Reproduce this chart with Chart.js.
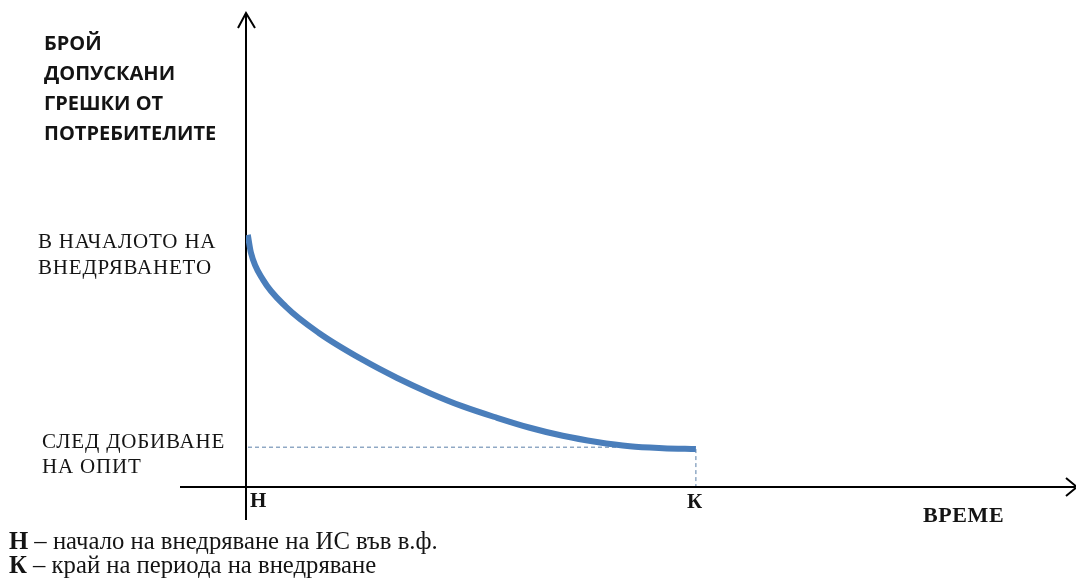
<!DOCTYPE html>
<html>
<head>
<meta charset="utf-8">
<script src="https://cdn.jsdelivr.net/npm/chart.js@4/dist/chart.umd.min.js"></script>
<style>
  html, body { margin: 0; padding: 0; background: #fff; }
  #wrap { width: 1076px; height: 578px; }
</style>
</head>
<body>
<div id="wrap"><canvas id="chart" width="1076" height="578"></canvas></div>
<script>
// време (Н = 0, К = 10) и брой грешки
const timeX = [0.04, 0.11, 0.38, 0.89, 1.62, 2.6, 3.36, 4.09, 4.82, 5.58, 6.31, 7.04, 7.8, 8.53, 9.27, 10];
const errorsY = [53.2, 49.4, 43.7, 38.0, 32.5, 26.8, 23.0, 19.8, 17.0, 14.6, 12.5, 10.8, 9.5, 8.6, 8.2, 8.0];
const expLevel = 8.4;   // ниво след добиване на опит
const startX = 0;       // Н
const endX = 10;        // К

const yTitle = ['БРОЙ', 'ДОПУСКАНИ', 'ГРЕШКИ ОТ', 'ПОТРЕБИТЕЛИТЕ'];
const startLabel = ['В НАЧАЛОТО НА', 'ВНЕДРЯВАНЕТО'];
const expLabel = ['СЛЕД ДОБИВАНЕ', 'НА ОПИТ'];
const xTitle = 'ВРЕМЕ';
const legendRows = [
  ['Н', ' – начало на внедряване на ИС във в.ф.'],
  ['К', ' – край на периода на внедряване']
];

const points = timeX.map((t, i) => ({ x: t, y: errorsY[i] }));

const serif = '"Liberation Serif", "DejaVu Serif", serif';

const drawingPlugin = {
  id: 'drawing',
  beforeDatasetsDraw(chart) {
    const ctx = chart.ctx;
    const xs = chart.scales.x, ys = chart.scales.y;
    const x0 = xs.getPixelForValue(startX);
    const y0 = ys.getPixelForValue(0);
    const kx = xs.getPixelForValue(endX);
    const ey = ys.getPixelForValue(expLevel);
    const top = ys.getPixelForValue(ys.max);

    ctx.save();
    // пунктирни линии
    ctx.strokeStyle = '#5a7fa8';
    ctx.lineWidth = 1;
    ctx.setLineDash([4, 3]);
    ctx.beginPath();
    ctx.moveTo(x0 + 2, ey);
    ctx.lineTo(kx, ey);
    ctx.moveTo(kx, ys.getPixelForValue(errorsY[errorsY.length - 1]));
    ctx.lineTo(kx, y0);
    ctx.stroke();
    ctx.setLineDash([]);

    // оси
    ctx.strokeStyle = '#000';
    ctx.lineWidth = 2;
    ctx.beginPath();
    ctx.moveTo(x0, top + 1);
    ctx.lineTo(x0, y0 + 33);
    ctx.moveTo(180, y0);
    ctx.lineTo(1075, y0);
    ctx.stroke();
    // стрелки
    ctx.beginPath();
    ctx.moveTo(x0 - 8, top + 15);
    ctx.lineTo(x0, top);
    ctx.lineTo(x0 + 9, top + 15);
    ctx.moveTo(1066, y0 - 9);
    ctx.lineTo(1077, y0);
    ctx.lineTo(1066, y0 + 9);
    ctx.stroke();
    ctx.restore();
  },
  afterDraw(chart) {
    const ctx = chart.ctx;
    const xs = chart.scales.x, ys = chart.scales.y;
    const y0 = ys.getPixelForValue(0);
    ctx.save();
    ctx.fillStyle = '#141414';
    ctx.textBaseline = 'alphabetic';
    ctx.textAlign = 'left';

    ctx.font = 'bold 20px "Open Sans", sans-serif';
    yTitle.forEach((t, i) => ctx.fillText(t, 44, 50 + i * 30));

    ctx.font = '21px ' + serif;
    ctx.letterSpacing = '0.8px';
    const sy = ys.getPixelForValue(errorsY[0]);
    startLabel.forEach((t, i) => ctx.fillText(t, 38, sy + 13 + i * 26));
    const ey = ys.getPixelForValue(expLevel);
    expLabel.forEach((t, i) => ctx.fillText(t, 42, ey + 1 + i * 25));

    ctx.letterSpacing = '0px';
    ctx.font = 'bold 21px ' + serif;
    ctx.fillText('Н', xs.getPixelForValue(startX) + 4, y0 + 20);
    ctx.fillText('К', xs.getPixelForValue(endX) - 9, y0 + 21);
    ctx.font = 'bold 22px ' + serif;
    ctx.letterSpacing = '0.6px';
    ctx.fillText(xTitle, 923, y0 + 35);
    ctx.letterSpacing = '0px';

    legendRows.forEach((row, i) => {
      const by = 549 + i * 24;
      ctx.font = 'bold 24.7px ' + serif;
      ctx.fillText(row[0], 9, by);
      const w = ctx.measureText(row[0]).width;
      ctx.font = '24.7px ' + serif;
      ctx.fillText(row[1], 9 + w, by);
    });
    ctx.restore();
  }
};

new Chart(document.getElementById('chart'), {
  type: 'scatter',
  data: {
    datasets: [{
      data: points,
      showLine: true,
      borderColor: '#4a7ebb',
      backgroundColor: '#4a7ebb',
      borderWidth: 6,
      pointRadius: 0,
      cubicInterpolationMode: 'monotone',
      borderCapStyle: 'butt'
    }]
  },
  options: {
    responsive: false,
    animation: false,
    layout: { padding: { left: 246, right: 4, top: 13, bottom: 91 } },
    plugins: { legend: { display: false }, tooltip: { enabled: false } },
    scales: {
      x: { type: 'linear', min: 0, max: 18.36, display: false },
      y: { type: 'linear', min: 0, max: 100, display: false }
    }
  },
  plugins: [drawingPlugin]
});
</script>
</body>
</html>
